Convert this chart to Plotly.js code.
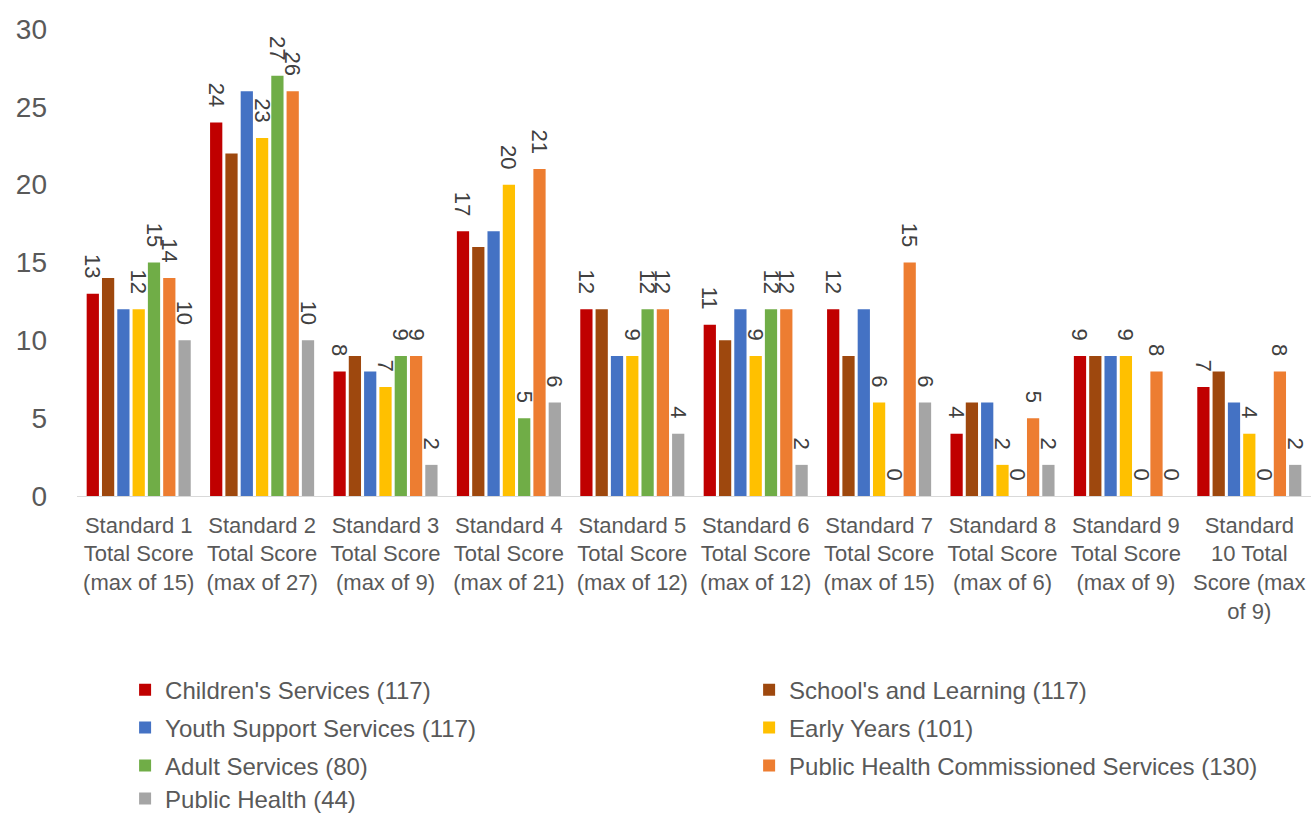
<!DOCTYPE html>
<html>
<head>
<meta charset="utf-8">
<script src="https://cdn.plot.ly/plotly-3.0.1.min.js"></script>
<style>html,body{margin:0;padding:0;background:#fff;}#chart{width:1314px;height:814px;}</style>
</head>
<body>
<div id="chart"></div>
<script>
var categories = ["Standard 1","Standard 2","Standard 3","Standard 4","Standard 5","Standard 6","Standard 7","Standard 8","Standard 9","Standard 10"];
var tickLabels = [
  "Standard 1<br>Total Score<br>(max of 15)",
  "Standard 2<br>Total Score<br>(max of 27)",
  "Standard 3<br>Total Score<br>(max of 9)",
  "Standard 4<br>Total Score<br>(max of 21)",
  "Standard 5<br>Total Score<br>(max of 12)",
  "Standard 6<br>Total Score<br>(max of 12)",
  "Standard 7<br>Total Score<br>(max of 15)",
  "Standard 8<br>Total Score<br>(max of 6)",
  "Standard 9<br>Total Score<br>(max of 9)",
  "Standard<br>10 Total<br>Score (max<br>of 9)"
];
var childrensServices   = [13, 24, 8, 17, 12, 11, 12, 4, 9, 7];
var schoolsLearning     = [14, 22, 9, 16, 12, 10, 9, 6, 9, 8];
var youthSupport        = [12, 26, 8, 17, 9, 12, 12, 6, 9, 6];
var earlyYears          = [12, 23, 7, 20, 9, 9, 6, 2, 9, 4];
var adultServices       = [15, 27, 9, 5, 12, 12, 0, 0, 0, 0];
var publicHealthComm    = [14, 26, 9, 21, 12, 12, 15, 5, 8, 8];
var publicHealth        = [10, 10, 2, 6, 4, 2, 6, 2, 0, 2];

var seriesNames = ["Children's Services (117)","School's and Learning (117)","Youth Support Services (117)","Early Years (101)","Adult Services (80)","Public Health Commissioned Services (130)","Public Health (44)"];
var seriesValues = [childrensServices, schoolsLearning, youthSupport, earlyYears, adultServices, publicHealthComm, publicHealth];
var seriesColors = ["#C00000","#9E480E","#4472C4","#FFC000","#70AD47","#ED7D31","#A5A5A5"];
var showLabels = [true,false,false,true,true,true,true];

// legend placement (container coords)
var legX = [0.0952, 0.5701, 0.0952, 0.5701, 0.0952, 0.5701, 0.0952];
var legY = [0.1523, 0.1523, 0.1057, 0.1057, 0.0590, 0.0590, 0.0185];

var traces = [];
var layout = {
  width: 1314, height: 814,
  margin: {l: 76.5, r: 3.3, t: 29, b: 318},
  paper_bgcolor: "#ffffff", plot_bgcolor: "#ffffff",
  font: {family: "Liberation Sans, Arial, sans-serif", color: "#595959"},
  barmode: "group", bargap: 0.132, bargroupgap: 0.2,
  showlegend: true,
  xaxis: {
    type: "category", tickmode: "array", tickvals: categories, ticktext: tickLabels,
    showline: true, linecolor: "#D9D9D9", linewidth: 1.3, ticks: "",
    tickfont: {size: 22, color: "#595959"}, ticklabelstandoff: 9,
    showgrid: false, zeroline: false, fixedrange: true, automargin: false
  },
  yaxis: {
    range: [0, 30], dtick: 5, tick0: 0, showgrid: false, zeroline: false, showline: false,
    ticks: "", tickfont: {size: 28, color: "#595959"}, ticklabelstandoff: 29, fixedrange: true, automargin: false
  }
};

for (var i = 0; i < seriesNames.length; i++) {
  var legName = i === 0 ? "legend" : "legend" + (i + 1);
  var t = {
    type: "bar", name: seriesNames[i], x: categories, y: seriesValues[i],
    marker: {color: seriesColors[i], line: {width: 0}},
    legend: legName, cliponaxis: false, hoverinfo: "skip"
  };
  if (showLabels[i]) {
    t.texttemplate = "%{y}\u00a0\u00a0";
    t.textposition = "outside";
    t.textangle = 90;
    t.constraintext = "none";
    t.textfont = {size: 22, color: "#404040"};
  } else {
    t.textposition = "none";
  }
  traces.push(t);
  layout[legName] = {
    x: legX[i], y: legY[i], xref: "container", yref: "container",
    xanchor: "left", yanchor: "middle",
    orientation: "h", bgcolor: "rgba(0,0,0,0)", borderwidth: 0,
    font: {size: 24, color: "#595959"}
  };
}

Plotly.newPlot("chart", traces, layout, {displayModeBar: false, staticPlot: true});
</script>
</body>
</html>
